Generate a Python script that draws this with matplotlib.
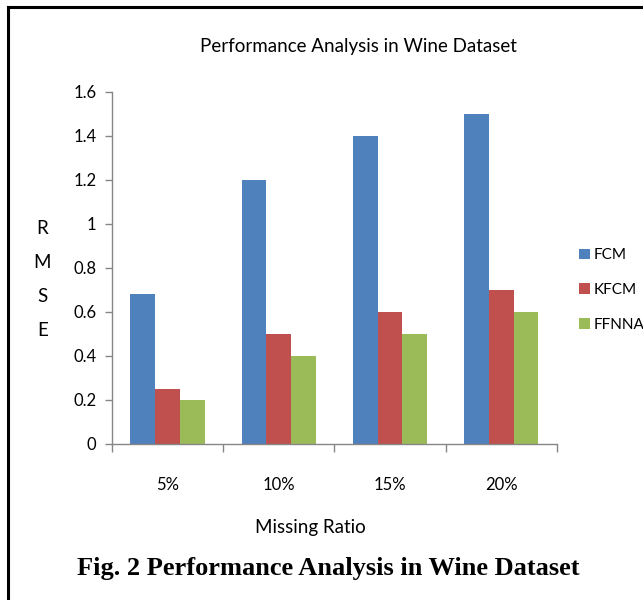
import numpy as np
import matplotlib
matplotlib.use("Agg")
import matplotlib.pyplot as plt
from matplotlib.lines import Line2D

plt.rcParams['font.family'] = ['Lato', 'DejaVu Sans']

categories = ["5%", "10%", "15%", "20%"]
fcm = [0.68, 1.2, 1.4, 1.5]
kfcm = [0.25, 0.5, 0.6, 0.7]
ffnna = [0.2, 0.4, 0.5, 0.6]
series = [("FCM", fcm, "#4F81BD"), ("KFCM", kfcm, "#C0504D"), ("FFNNA", ffnna, "#9BBB59")]

fig = plt.figure(figsize=(6.43, 6.0), dpi=100)
ax = fig.add_axes([0.174, 0.26, 0.692, 0.587])

x = np.arange(len(categories))
w = 1 / 4.5
for i, (name, vals, col) in enumerate(series):
    ax.bar(x + (i - 1) * w, vals, w, color=col, label=name)

axis_col = "#868686"
ax.set_xlim(-0.5, len(categories) - 0.5)
ax.set_ylim(0, 1.6)
ax.set_yticks(np.arange(0, 1.61, 0.2))
ax.set_yticklabels(["0", "0.2", "0.4", "0.6", "0.8", "1", "1.2", "1.4", "1.6"])
ax.set_xticks(x)
ax.set_xticklabels(categories)
ax.set_xticks(np.arange(-0.5, len(categories)), minor=True)
ax.tick_params(axis='x', which='major', length=0, pad=24, labelsize=12)
ax.tick_params(axis='x', which='minor', length=6, color=axis_col, width=1)
ax.tick_params(axis='y', length=5, color=axis_col, width=1, labelsize=12, pad=6)
for s in ["top", "right"]:
    ax.spines[s].set_visible(False)
for s in ["left", "bottom"]:
    ax.spines[s].set_color(axis_col)
    ax.spines[s].set_linewidth(1)

fig.text(0.557, 0.923, "Performance Analysis in Wine Dataset", ha='center', va='center', fontsize=13.5)
fig.text(0.482, 0.12, "Missing Ratio", ha='center', va='center', fontsize=13.5)
for i, ch in enumerate("RMSE"):
    fig.text(0.066, 0.62 - i * 0.057, ch, ha='center', va='center', fontsize=13.5)

ax.legend(loc='center left', bbox_to_anchor=(1.05, 0.4375), frameon=False, fontsize=11,
          handlelength=0.7, handleheight=0.7, handletextpad=0.25, labelspacing=1.35,
          borderpad=0, borderaxespad=0)

fig.text(0.51, 0.053, "Fig. 2 Performance Analysis in Wine Dataset", ha='center', va='center',
         fontsize=19, fontweight='bold', family=['Liberation Serif', 'DejaVu Serif'])

fig.add_artist(Line2D([0.0125, 0.0125], [0, 0.988], color='black', lw=2.2, transform=fig.transFigure))
fig.add_artist(Line2D([0.0125, 1.0], [0.988, 0.988], color='black', lw=2.2, transform=fig.transFigure))

fig.savefig("out.png", dpi=100)
